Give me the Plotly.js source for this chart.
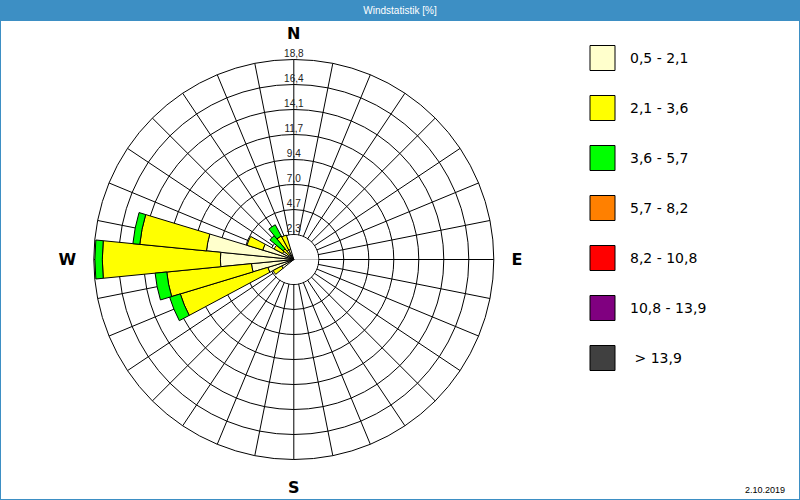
<!DOCTYPE html>
<html>
<head>
<meta charset="utf-8">
<script src="https://cdn.plot.ly/plotly-3.0.1.min.js"></script>
<style>
  html, body { margin: 0; padding: 0; background: #fff; }
  #chart { width: 800px; height: 500px; }
</style>
</head>
<body>
<div id="chart"></div>
<script>
"use strict";

// Wind directions (deg, clockwise from north), 32-sector rose.
const DIRECTIONS = [236.25, 247.5, 258.75, 270, 281.25, 292.5, 303.75, 315, 326.25, 337.5];

// Speed classes (m/s) and their colours.
const CLASSES = ["0,5 - 2,1", "2,1 - 3,6", "3,6 - 5,7", "5,7 - 8,2", "8,2 - 10,8", "10,8 - 13,9", "\u00a0> 13,9"];
const COLORS = ["#ffffcc", "#ffff00", "#00ff00", "#ff8000", "#ff0000", "#800080", "#404040"];

// Frequency [%] per direction, one array per speed class.
const FREQ_05_21 = [1.3, 2.55, 4.0, 6.9, 8.25, 3.05, 1.2, 0.6, 1.0, 1.0];
const FREQ_21_36 = [0.9, 8.6, 8.0, 11.1, 6.3, 1.55, 0.9, 0.7, 1.5, 1.4];
const FREQ_36_57 = [0, 1.05, 1.1, 0.7, 0.65, 0, 0, 1.6, 1.2, 0];
const FREQ_57_82 = [0, 0, 0, 0, 0, 0, 0, 0, 0, 0];
const FREQ_82_108 = [0, 0, 0, 0, 0, 0, 0, 0, 0, 0];
const FREQ_108_139 = [0, 0, 0, 0, 0, 0, 0, 0, 0, 0];
const FREQ_139 = [0, 0, 0, 0, 0, 0, 0, 0, 0, 0];
const SERIES = [FREQ_05_21, FREQ_21_36, FREQ_36_57, FREQ_57_82, FREQ_82_108, FREQ_108_139, FREQ_139];

// Ring ticks on the radial axis.
const RING_VALUES = [2.35, 4.7, 7.05, 9.4, 11.75, 14.1, 16.45, 18.8];
const RING_LABELS = ["2,3", "4,7", "7,0", "9,4", "11,7", "14,1", "16,4", "18,8"];
const COMPASS = { 0: "N", 90: "E", 180: "S", 270: "W" };
const SECTORS = 32;

const TITLE = "Windstatistik [%]";
const DATE_TEXT = "2.10.2019";
const BLUE = "#3d8fc4";

const sectorWidth = 360 / SECTORS;
const dirTicks = [];
for (let i = 0; i < SECTORS; i++) dirTicks.push(i * sectorWidth);
const dirText = dirTicks.map((d) => COMPASS[d] || "");

// White inner disc (two half bars, on N and S so they never stack with data)
// so the spokes start at the first ring; data bars are drawn over it.
const holeR = RING_VALUES[0] - 0.05;
const traces = [{
  type: "barpolar",
  r: [holeR, holeR],
  theta: [0, 180],
  width: [180, 180],
  marker: { color: "#ffffff", line: { width: 0 } },
  hoverinfo: "skip",
  showlegend: false,
}];

SERIES.forEach((vals, i) => {
  const keep = vals.map((v, k) => k).filter((k) => vals[k] > 0);
  traces.push({
    type: "barpolar",
    name: CLASSES[i],
    r: keep.map((k) => vals[k]),
    theta: keep.map((k) => DIRECTIONS[k]),
    width: keep.map(() => sectorWidth),
    marker: { color: COLORS[i], line: { color: "#000", width: 1 } },
    showlegend: false,
  });
});

traces.push({
  type: "scatterpolar",
  mode: "text",
  r: RING_VALUES,
  theta: RING_VALUES.map(() => 0),
  text: RING_LABELS,
  textposition: "top center",
  textfont: { family: "Liberation Sans, Arial, sans-serif", size: 10, color: "#222" },
  cliponaxis: false,
  hoverinfo: "skip",
  showlegend: false,
});

// Hand-drawn legend: big swatches with outline.
const shapes = [
  { type: "rect", xref: "paper", yref: "paper", x0: 0, x1: 1, y0: 1 - 21 / 500, y1: 1,
    fillcolor: BLUE, line: { width: 0 }, layer: "below" },
  { type: "rect", xref: "paper", yref: "paper", x0: 0, x1: 1, y0: 0, y1: 1,
    fillcolor: "rgba(0,0,0,0)", line: { color: BLUE, width: 2 } },
];
const annotations = [{
  text: DATE_TEXT, xref: "paper", yref: "paper", x: 787 / 800, y: 10 / 500,
  xanchor: "right", yanchor: "middle", showarrow: false,
  font: { family: "Liberation Sans, Arial, sans-serif", size: 9, color: "#000" },
}];
CLASSES.forEach((label, i) => {
  const yc = 58 + i * 50;
  shapes.push({
    type: "rect", xref: "paper", yref: "paper",
    x0: 590 / 800, x1: 615 / 800, y0: 1 - (yc + 12.5) / 500, y1: 1 - (yc - 12.5) / 500,
    fillcolor: COLORS[i], line: { color: "#000", width: 1 },
  });
  annotations.push({
    text: label, xref: "paper", yref: "paper", x: 628 / 800, y: 1 - yc / 500,
    xanchor: "left", yanchor: "middle", showarrow: false,
    font: { family: "DejaVu Sans, Verdana, sans-serif", size: 14, color: "#000" },
  });
});

const layout = {
  width: 800,
  height: 500,
  margin: { l: 0, r: 0, t: 0, b: 0 },
  paper_bgcolor: "#ffffff",
  showlegend: false,
  title: {
    text: TITLE,
    x: 0.5,
    xanchor: "center",
    y: 1 - 10 / 500,
    yref: "container",
    yanchor: "middle",
    font: { family: "Liberation Sans, Arial, sans-serif", size: 10, color: "#ffffff" },
  },
  polar: {
    domain: { x: [93.8 / 800, 493.8 / 800], y: [40.5 / 500, 440.5 / 500] },
    bgcolor: "#ffffff",
    barmode: "stack",
    radialaxis: {
      range: [0, RING_VALUES[RING_VALUES.length - 1]],
      tickmode: "array",
      tickvals: RING_VALUES,
      showticklabels: false,
      ticks: "",
      showline: false,
      gridcolor: "#000",
      gridwidth: 1,
      layer: "below traces",
      angle: 90,
    },
    angularaxis: {
      type: "linear",
      direction: "clockwise",
      rotation: 90,
      tickmode: "array",
      tickvals: dirTicks,
      ticktext: dirText,
      ticks: "outside",
      ticklen: 14,
      tickcolor: "rgba(0,0,0,0)",
      tickfont: { family: "DejaVu Sans, Verdana, sans-serif", size: 16, color: "#000", weight: "bold" },
      showline: true,
      linecolor: "#000",
      linewidth: 1,
      gridcolor: "#000",
      gridwidth: 1,
      layer: "below traces",
    },
  },
  shapes,
  annotations,
};

Plotly.newPlot("chart", traces, layout, { displayModeBar: false, staticPlot: true });
</script>
</body>
</html>
